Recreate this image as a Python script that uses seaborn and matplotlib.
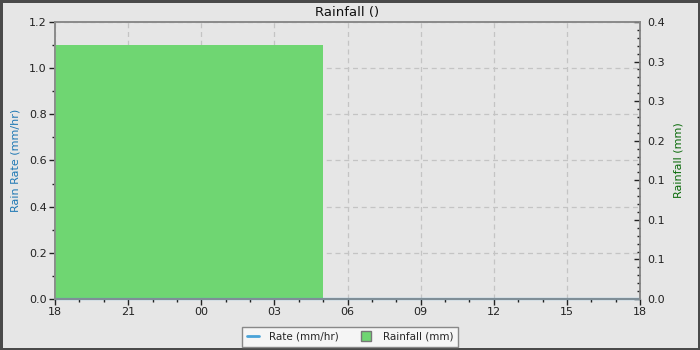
import matplotlib
matplotlib.use("Agg")
import matplotlib.pyplot as plt
from matplotlib.lines import Line2D
from matplotlib.ticker import FixedLocator, FixedFormatter, MultipleLocator
import seaborn as sns
import pandas as pd

# ---- data ----
hour_ticks = [0, 3, 6, 9, 12, 15, 18, 21, 24]          # hours since 18:00
hour_labels = ["18", "21", "00", "03", "06", "09", "12", "15", "18"]
rate_hours = [0, 3, 6, 9, 12, 15, 18, 21, 24]
rate_values = [0, 0, 0, 0, 0, 0, 0, 0, 0]               # mm/hr
rain_start = [0]                                        # hours since 18:00
rain_end = [11]
rain_values = [0.3667]                                  # mm
right_ticks = [0, 0.4 / 7, 0.8 / 7, 1.2 / 7, 1.6 / 7, 2.0 / 7, 2.4 / 7, 0.4]
right_labels = ["0.0", "0.1", "0.1", "0.1", "0.2", "0.3", "0.3", "0.4"]

sns.set_theme(style="white")
plt.rcParams["font.family"] = ["DejaVu Sans"]

bg = "#e6e6e6"
spine_c = "#8a8a8a"
fig = plt.figure(figsize=(7, 3.5), dpi=100, facecolor=bg,
                 edgecolor="#4a4a4a", linewidth=2.5)
ax = fig.add_axes([55 / 700, 51 / 350, 585 / 700, 277 / 350])
ax.set_facecolor(bg)
ax2 = ax.twinx()

# rainfall bar (right axis)
rain_df = pd.DataFrame({"start": rain_start, "mm": rain_values})
sns.histplot(data=rain_df, x="start", weights="mm",
             bins=[rain_start[0], rain_end[0]], ax=ax2,
             color="#6fd672", alpha=1.0, linewidth=0, edgecolor="none",
             legend=False)

# rain rate line (left axis scale, drawn on top)
rate_df = pd.DataFrame({"h": rate_hours, "rate": rate_values})
sns.lineplot(data=rate_df, x="h", y="rate", ax=ax2, color="#4aa3d8",
             linewidth=1.6, transform=ax.transData, clip_on=False)

ax.set_xlim(0, 24)
ax2.set_xlim(0, 24)
ax.set_ylim(0, 1.2)
ax2.set_ylim(0, 0.4)

ax.xaxis.set_major_locator(FixedLocator(hour_ticks))
ax.xaxis.set_major_formatter(FixedFormatter(hour_labels))
ax.xaxis.set_minor_locator(MultipleLocator(1))
ax.yaxis.set_major_locator(MultipleLocator(0.2))
ax.yaxis.set_minor_locator(MultipleLocator(0.1))
ax.yaxis.set_major_formatter(matplotlib.ticker.FormatStrFormatter("%.1f"))
ax2.yaxis.set_major_locator(FixedLocator(right_ticks))
ax2.yaxis.set_major_formatter(FixedFormatter(right_labels))
ax2.yaxis.set_minor_locator(MultipleLocator(0.4 / 35))

ax.grid(True, which="major", color="#c4c4c4", linestyle=(0, (4, 3)), linewidth=0.9)
ax.set_axisbelow(True)
ax2.grid(False)

for a in (ax, ax2):
    for s in a.spines.values():
        s.set_color(spine_c)
        s.set_linewidth(1.2)

tc = "#222222"
ax.tick_params(axis="both", which="major", direction="out", length=4, width=1,
               color="#222222", labelsize=8, labelcolor=tc, pad=2)
ax.tick_params(axis="both", which="minor", direction="out", length=2.5, width=1,
               color="#222222")
ax.tick_params(axis="y", which="both", left=True)
ax.tick_params(axis="x", which="both", bottom=True)
ax2.tick_params(axis="y", which="major", direction="in", length=4, width=1,
                color="#222222", labelsize=8, labelcolor=tc, pad=5, right=True)
ax2.tick_params(axis="y", which="minor", direction="in", length=2.5, width=1,
                color="#222222", right=True)

ax.set_xlabel("")
ax2.set_xlabel("")
ax.set_ylabel("Rain Rate (mm/hr)", color="#1f78b4", fontsize=8, labelpad=6)
ax2.set_ylabel("Rainfall (mm)", color="#0b6b0b", fontsize=8, labelpad=6)
ax.set_title("Rainfall ()", fontsize=9.5, color="#111111", pad=4)

handles = [
    Line2D([], [], color="#4aa3d8", linewidth=2),
    Line2D([], [], color="none", marker="s", markersize=7,
           markerfacecolor="#6fd672", markeredgecolor="#777777"),
]
leg = fig.legend(handles, ["Rate (mm/hr)", "Rainfall (mm)"], ncol=2,
                 loc="lower center", bbox_to_anchor=(0.5, -0.005),
                 fontsize=7.5, frameon=True, fancybox=False,
                 handlelength=1.2, columnspacing=2.0, handletextpad=1.0,
                 borderpad=0.45)
leg.get_frame().set_facecolor("#f5f5f5")
leg.get_frame().set_edgecolor("#888888")
leg.get_frame().set_alpha(1)

fig.savefig("out.png", dpi=100, facecolor=bg, edgecolor=fig.get_edgecolor())
